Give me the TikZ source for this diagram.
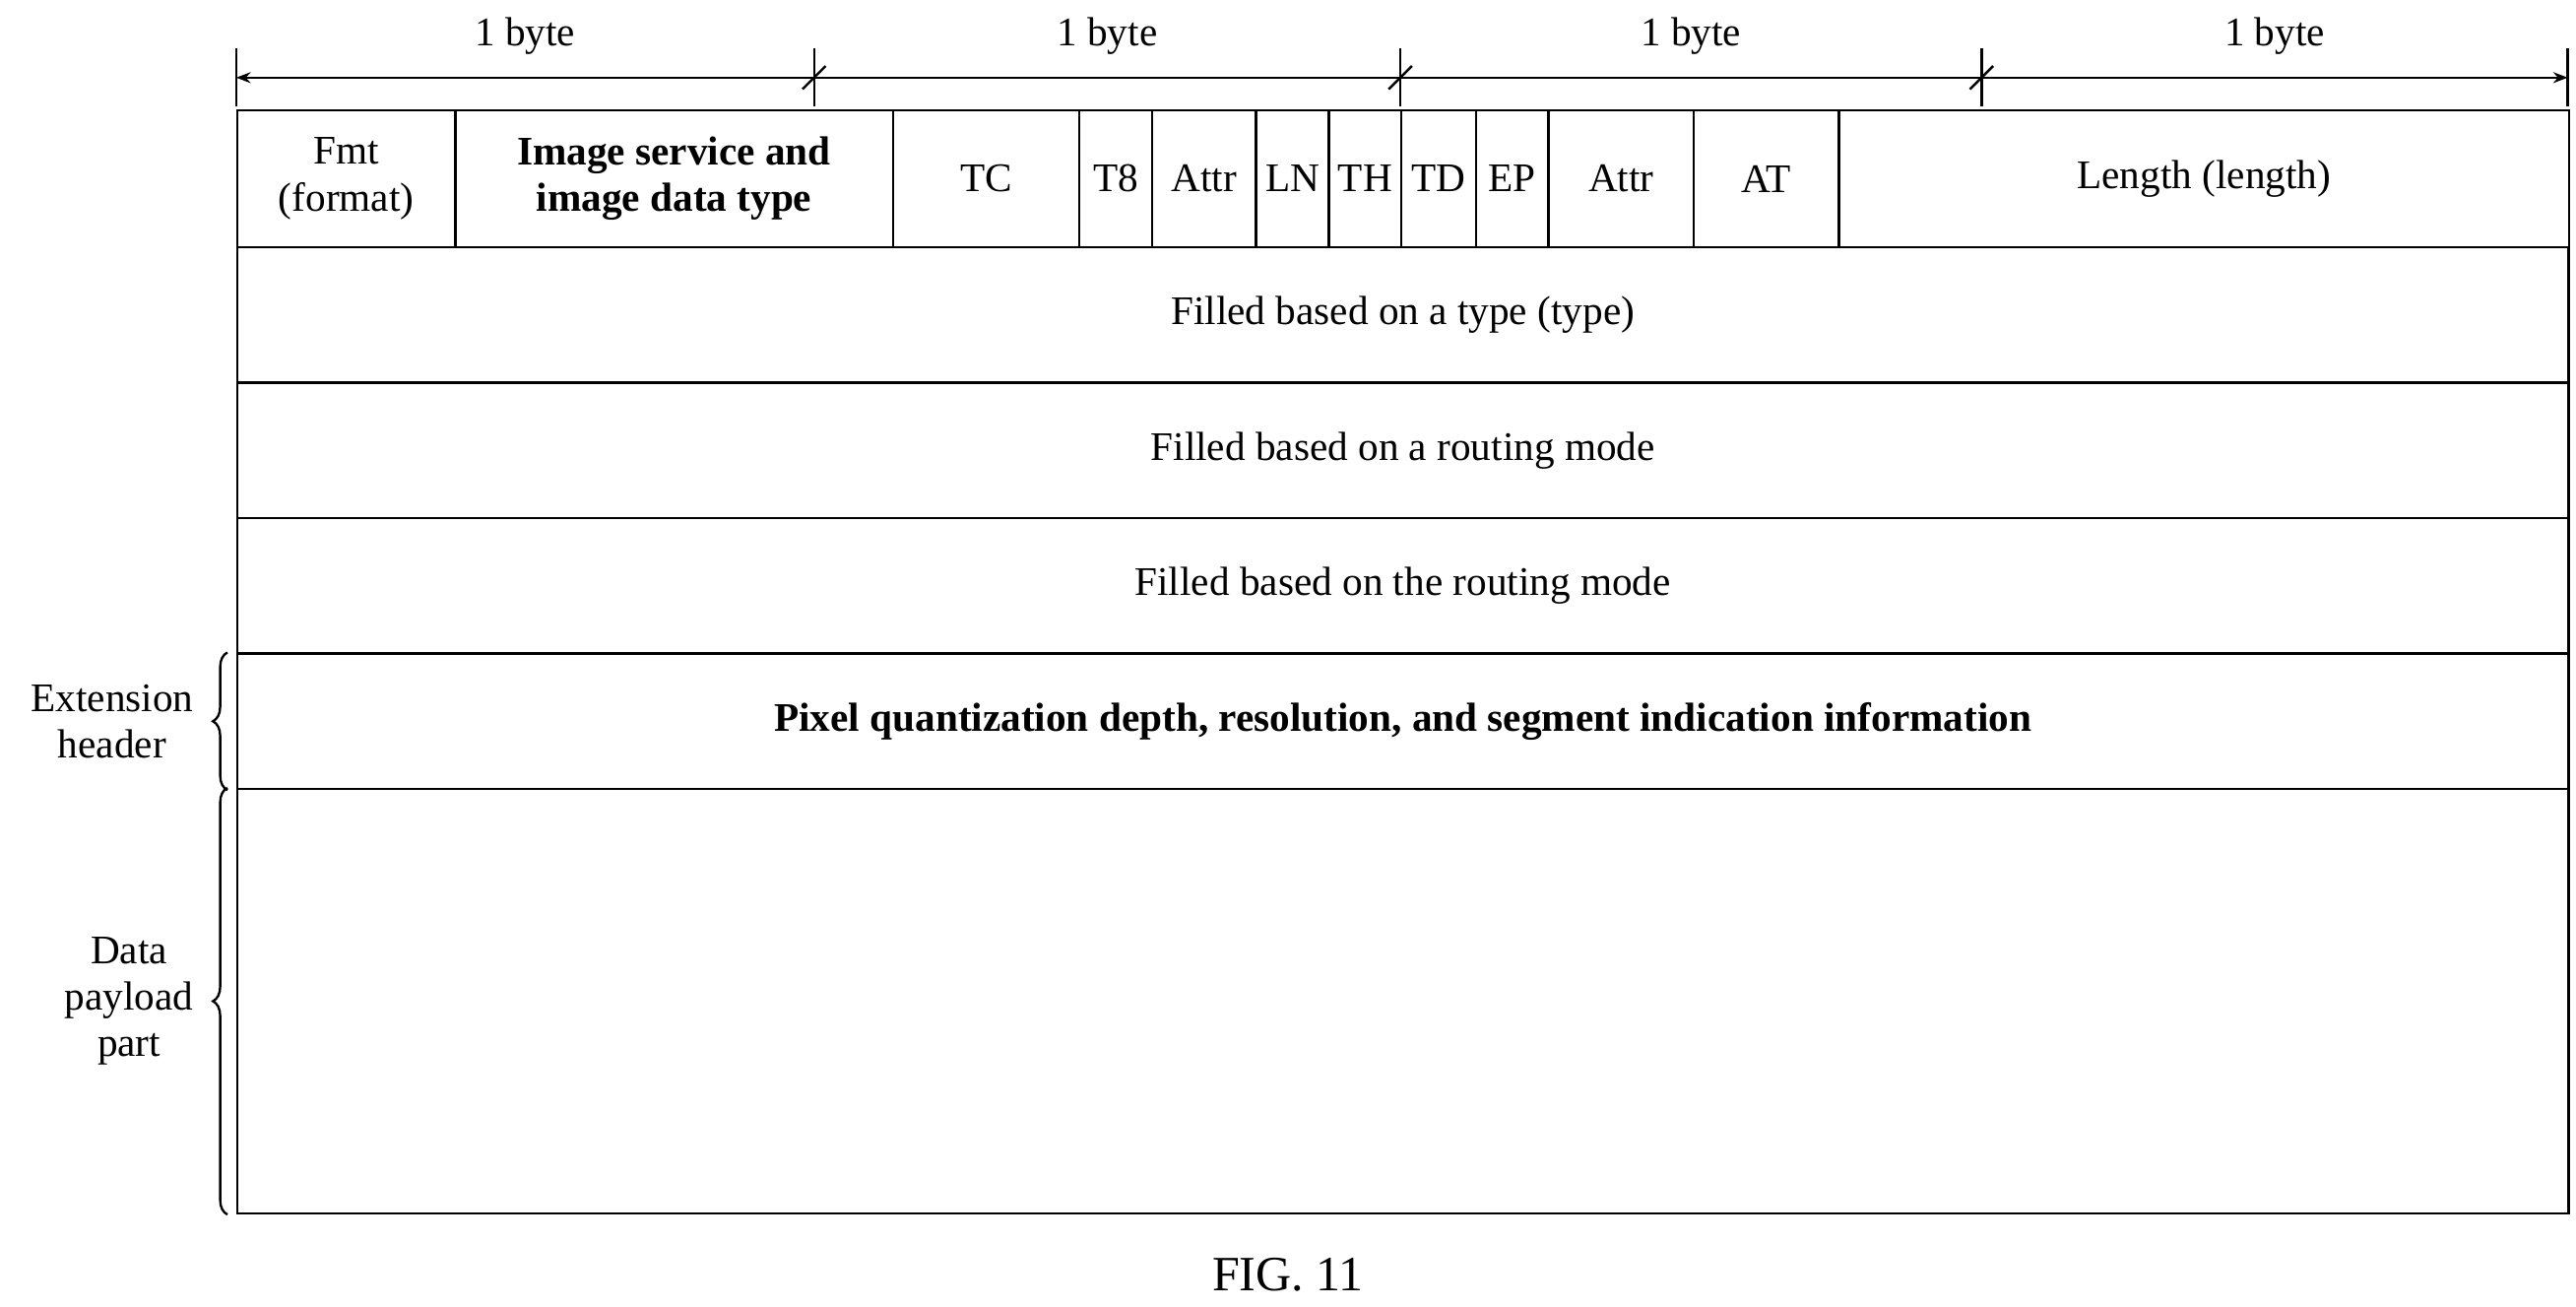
\documentclass[tikz,border=0pt]{standalone}
\usepackage{fontspec}
\setmainfont{Liberation Serif}
\usetikzlibrary{decorations.pathreplacing,arrows.meta,calc}

\tikzset{
	cell/.style={draw=black, thick, anchor=north west, inner sep=0pt, align=center, font=\fontsize{14}{16}\selectfont},
	lbl/.style={align=center, font=\fontsize{14}{16}\selectfont},
	brc/.style={decorate, decoration={brace, amplitude=5pt}, thick}
}

\begin{document}
\begin{tikzpicture}[x=0.02cm, y=-0.02cm]
	
	\useasboundingbox (0,0) rectangle (1560,791);
	
	% field row
	\foreach \xa/\xb/\name/\txt in {143/275/fmt/{Fmt\\(format)}, 275/540/img/{\textbf{Image service and}\\\textbf{image data type}}, 540/653/tc/TC, 653/697/t8/T8, 697/760/attra/Attr, 760/804/ln/LN, 804/848/th/TH, 848/893/td/TD, 893/937/ep/EP, 937/1025/attrb/Attr, 1025/1113/at/AT, 1113/1555/len/{Length (length)}}
		\node[cell, minimum width={(\xb-\xa)*0.02cm}, minimum height=1.66cm] (\name) at (\xa,66) {\txt};
	
	% full rows
	\node[cell, minimum width=28.24cm, minimum height=1.64cm] (type) at (143,149) {Filled based on a type (type)};
	\node[cell, minimum width=28.24cm, minimum height=1.64cm] (route) at (143,231) {Filled based on a routing mode};
	\node[cell, minimum width=28.24cm, minimum height=1.64cm] (route2) at (143,313) {Filled based on the routing mode};
	\node[cell, minimum width=28.24cm, minimum height=1.64cm] (ext) at (143,395) {\textbf{Pixel quantization depth, resolution, and segment indication information}};
	\node[cell, minimum width=28.24cm, minimum height=5.14cm] (pay) at (143,477) {};
	
	% byte scale
	\coordinate (b0) at (143,47);
	\coordinate (b1) at (493,47);
	\coordinate (b2) at (848,47);
	\coordinate (b3) at (1200,47);
	\coordinate (b4) at (1555,47);
	\draw[thick, {Stealth[length=5pt]}-{Stealth[length=5pt]}] (b0) -- (b4);
	\foreach \i in {0,...,4}
		\draw[thick] ([yshift=-10pt]b\i) -- ([yshift=10pt]b\i);
	\foreach \i in {1,2,3}
		\draw[thick] ([xshift=-4pt,yshift=-4pt]b\i) -- ([xshift=4pt,yshift=4pt]b\i);
	\foreach \i/\j in {0/1,1/2,2/3,3/4}
		\node[lbl] at ($(b\i)!0.5!(b\j)+(0,-25)$) {1 byte};
	
	% braces
	\draw[brc] ([xshift=-3pt]pay.south west) -- ([xshift=-3pt]pay.north west) node[midway, left=8pt, lbl] {Data\\payload\\part};
	\draw[brc] ([xshift=-3pt]ext.south west) -- ([xshift=-3pt]ext.north west) node[midway, left=8pt, lbl] {Extension\\header};
	
	\node[lbl, font=\fontsize{17}{20}\selectfont] (fig) at (780,772) {FIG. 11};
	
\end{tikzpicture}
\end{document}
